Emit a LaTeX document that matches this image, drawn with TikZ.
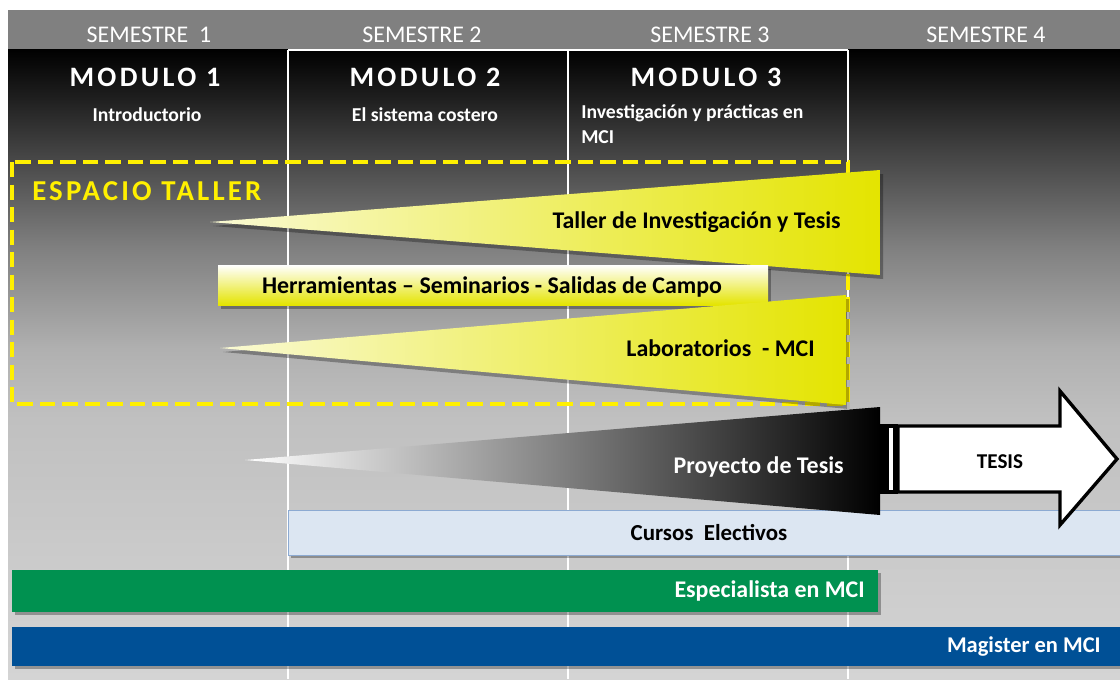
\documentclass[tikz,border=0pt]{standalone}
\usepackage{fontspec}
\setmainfont{Carlito}
\newfontfamily\modfont[LetterSpace=12]{Carlito}
\newfontfamily\espfont[LetterSpace=11]{Carlito}

\definecolor{hdrgray}{RGB}{128,128,128}
\definecolor{bgA}{RGB}{30,30,30}
\definecolor{bgB}{RGB}{64,64,64}
\definecolor{bgC}{RGB}{128,128,128}
\definecolor{bgD}{RGB}{176,176,176}
\definecolor{bgE}{RGB}{192,192,192}
\definecolor{bgF}{RGB}{212,212,212}
\pgfdeclareverticalshading{bodyshade}{100bp}{color(0bp)=(bgF); color(25bp)=(bgF);
  color(45.7bp)=(bgE); color(51.2bp)=(bgD); color(59.2bp)=(bgC); color(67.2bp)=(bgB);
  color(71.2bp)=(bgA); color(75bp)=(black); color(100bp)=(black)}
\definecolor{tallerdark}{RGB}{228,228,0}
\definecolor{tallerlight}{RGB}{250,250,212}
\definecolor{dashyellow}{RGB}{255,240,0}
\definecolor{electivo}{RGB}{220,230,242}
\definecolor{electivoline}{RGB}{140,170,210}
\definecolor{espgreen}{RGB}{0,145,80}
\definecolor{magblue}{RGB}{0,80,150}

\begin{document}
\begin{tikzpicture}[x=0.025cm,y=-0.025cm]
  \useasboundingbox (0,0) rectangle (1120,679);
  \tikzstyle{every node}=[inner sep=0pt,font=\bfseries\fontsize{17}{19}\selectfont]
  \tikzstyle{semlabel}=[text=white,font=\fontsize{17}{19}\selectfont]
  \tikzstyle{modtitle}=[text=white,font=\modfont\bfseries\fontsize{20}{22}\selectfont]
  \tikzstyle{modsub}=[text=white,font=\bfseries\fontsize{14}{18}\selectfont]
  \tikzstyle{shadow}=[black,opacity=0.3]

%% background, header and columns
  \fill[white] (0,0) rectangle (1120,679);
  \shade[shading=bodyshade] (8,49) rectangle (1120,679);
  \fill[hdrgray] (8,10) rectangle (1120,49);
  \foreach \n/\x/\txt in {1/149/SEMESTRE\ \ 1, 2/422/SEMESTRE 2, 3/710/SEMESTRE 3, 4/986/SEMESTRE 4}
    \node[semlabel] (sem\n) at (\x,35) {\txt};
  \foreach \x in {288,568,848}
    \draw[white,line width=1.4pt] (\x,50) -- (\x,679);
  \draw[white,line width=1.4pt] (288,50) -- (848,50);

%% modules
  \node[modtitle] (mod1) at (145,77) {MODULO 1};
  \node[modsub]   (mod1-sub) at (147,115) {Introductorio};
  \node[modtitle] (mod2) at (425,77) {MODULO 2};
  \node[modsub]   (mod2-sub) at (425,115) {El sistema costero};
  \node[modtitle] (mod3) at (706,77) {MODULO 3};
  \node[modsub,anchor=north west,align=left] (mod3-sub) at (581,104) {Investigación y prácticas en\\MCI};

%% espacio taller
  \draw[dashyellow,line width=3pt,dash pattern=on 11pt off 5pt] (12,162) rectangle (848,404);
  \node[anchor=west,text=dashyellow,font=\espfont\bfseries\fontsize{20.5}{22}\selectfont] (espacio) at (32,191) {ESPACIO TALLER};

  \fill[shadow] (213,226) -- (883,174) -- (883,279) -- cycle;
  \shade[left color=tallerlight,right color=tallerdark] (210,222) -- (880,170) -- (880,275) -- cycle;
  \node[anchor=east] (taller) at (841,222) {Taller de Investigación y Tesis};

  \fill[shadow] (221,269) rectangle (771,309);
  \shade[top color=white,bottom color=tallerdark] (218,265) rectangle (768,305);
  \node (herram) at (492,287) {Herramientas -- Seminarios - Salidas de Campo};

  \fill[shadow] (223,352) -- (849,299) -- (849,409) -- cycle;
  \shade[left color=tallerlight,right color=tallerdark] (220,348) -- (846,295) -- (846,405) -- cycle;
  \node[anchor=east] (labs) at (815,348) {Laboratorios\ \ - MCI};

%% cursos, proyecto, tesis
  \fill[shadow] (291,513) rectangle (1120,558);
  \draw[electivoline,fill=electivo] (288,510) rectangle (1122,555);
  \node[font=\bfseries\fontsize{16.3}{18}\selectfont] (cursos) at (709,533) {Cursos\ \ Electivos};

  \shade[left color=white,middle color=gray!60!black,right color=black] (245,460) -- (880,407) -- (880,515) -- cycle;
  \node[anchor=east,text=white] (proyecto) at (844,467) {Proyecto de Tesis};

  \fill[black] (880,424) rectangle (898,494);
  \fill[white] (889,428) rectangle (893,490);
  \draw[black,line width=2.4pt,fill=white] (898,426) -- (1060,426) -- (1060,391) -- (1117,459)
    -- (1060,525) -- (1060,492) -- (898,492) -- cycle;
  \node[font=\bfseries\fontsize{15}{17}\selectfont] (tesis) at (1000,462) {TESIS};

%% titulos
  \fill[shadow] (15,573) rectangle (881,615);
  \fill[espgreen] (12,570) rectangle (878,612);
  \node[anchor=east,text=white] (espec) at (865,591) {Especialista en MCI};

  \fill[shadow] (15,630) rectangle (1120,669);
  \fill[magblue] (12,627) rectangle (1120,666);
  \node[anchor=east,text=white,font=\bfseries\fontsize{16}{18}\selectfont] (magister) at (1101,647) {Magister en MCI};
\end{tikzpicture}
\end{document}
